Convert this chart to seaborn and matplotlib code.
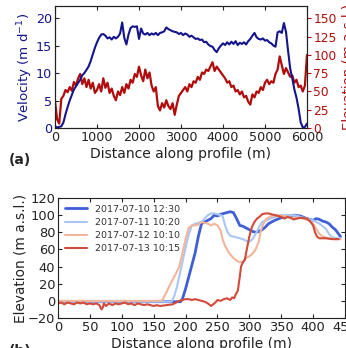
import numpy as np
import pandas as pd
import seaborn as sns
import matplotlib.pyplot as plt

# ---- panel (a): velocity and second quantity along the long profile ----
dist_a = np.arange(0, 6001, 50)
velocity = [
    0.3, 0.1, 0.2, 0.3, 1.0, 2.5, 3.8, 5.0, 6.0, 7.0, 7.6, 8.2, 8.8, 9.6, 10.0, 10.6,
    11.2, 12.2, 13.4, 14.6, 15.6, 16.4, 17.0, 17.1, 16.8, 16.3, 16.5, 16.1, 16.6, 16.3,
    16.6, 17.2, 19.2, 16.4, 15.2, 17.0, 18.2, 18.5, 18.4, 18.5, 16.2, 18.1, 17.2, 17.0,
    17.3, 16.9, 17.2, 17.0, 17.3, 16.9, 17.3, 17.4, 17.6, 18.3, 18.0, 17.8, 17.6, 17.5,
    17.4, 17.1, 17.3, 16.9, 17.2, 17.0, 16.6, 16.8, 16.5, 16.2, 16.3, 16.0, 16.1, 15.6,
    15.7, 15.2, 14.9, 14.8, 14.2, 13.8, 14.5, 15.0, 15.4, 15.1, 15.6, 15.2, 15.7, 15.3,
    15.8, 15.1, 15.5, 15.3, 15.6, 15.2, 15.8, 16.2, 16.8, 17.3, 16.5, 16.2, 16.1, 16.3,
    15.9, 16.0, 15.6, 15.4, 15.0, 14.8, 17.4, 17.6, 17.3, 19.1, 17.5, 14.0, 10.8, 9.0,
    7.0, 5.5, 3.5, 1.0, 0.1, 0.2, 0.8,
]
second = [
    37, 12, 6, 40, 44, 52, 49, 56, 51, 63, 58, 68, 74, 60, 68, 56, 66, 54, 62, 48,
    52, 60, 50, 68, 55, 62, 48, 54, 44, 38, 50, 45, 56, 48, 60, 54, 66, 62, 74, 70,
    84, 72, 64, 80, 68, 76, 58, 50, 56, 30, 24, 34, 28, 38, 30, 26, 34, 18, 32, 44,
    48, 52, 56, 50, 60, 56, 64, 62, 70, 66, 76, 74, 80, 78, 84, 90, 78, 84, 80, 76,
    72, 68, 62, 64, 56, 58, 50, 52, 46, 50, 42, 44, 36, 32, 46, 42, 50, 48, 56, 52,
    62, 66, 60, 64, 62, 74, 80, 98, 86, 74, 82, 76, 70, 72, 62, 66, 56, 58, 50, 58,
    100,
]

# ---- panel (b): elevation profiles on four dates ----
dates = ["2017-07-10 12:30", "2017-07-11 10:20", "2017-07-12 10:10", "2017-07-13 10:15"]
colors_b = ["#3f5fd6", "#a9c6f6", "#f2b59a", "#d24a3a"]

d_0710 = [0, 20, 40, 60, 80, 100, 120, 140, 160, 180, 192, 195, 200, 205, 210, 215, 220,
          225, 230, 235, 240, 245, 250, 255, 260, 265, 270, 275, 280, 285, 290, 295, 300,
          305, 310, 315, 320, 325, 330, 340, 350, 360, 370, 380, 390, 400, 405, 410, 415,
          420, 425, 430, 435, 440, 443]
z_0710 = [-1, -1, -1, -1, -1, -1, -1, -1, -1, -1, -1, 2, 14, 28, 42, 56, 75, 90, 92, 94,
          96, 100, 99, 101, 102, 103, 104, 103, 96, 88, 87, 85, 83, 81, 80, 81, 83, 86,
          90, 94, 97, 99, 100, 99, 96, 94, 96, 95, 93, 92, 90, 86, 83, 78, 75]

d_0711 = [0, 40, 80, 120, 160, 178, 182, 186, 190, 195, 200, 205, 210, 215, 220, 225, 230,
          235, 240, 245, 250, 255, 258, 262, 266, 270, 275, 280, 285, 290, 295, 300, 305,
          310, 315, 320, 330, 340, 350, 360, 370, 380, 390, 400, 410, 420, 425, 430, 440,
          443]
z_0711 = [-1, -1, -1, -1, -1, -1, 5, 15, 28, 45, 62, 78, 88, 90, 91, 92, 96, 100, 102,
          102, 101, 100, 99, 88, 80, 76, 75, 74, 73, 72, 70, 69, 72, 78, 86, 92, 95, 98,
          100, 100, 100, 98, 96, 94, 90, 84, 78, 74, 73, 73]

d_0712 = [0, 40, 80, 120, 160, 163, 170, 175, 180, 185, 190, 195, 200, 205, 210, 215, 220,
          225, 230, 235, 240, 245, 250, 255, 258, 262, 268, 275, 280, 285, 290, 295, 300,
          305, 310, 315, 318, 322, 327, 335, 345, 355, 365, 375, 385, 395, 400, 405, 410,
          415, 425, 435, 443]
z_0712 = [0, 0, 0, 0, 0, 0, 10, 18, 25, 32, 40, 55, 72, 85, 88, 88, 89, 92, 91, 90, 88,
          90, 88, 82, 72, 64, 56, 50, 47, 45, 46, 50, 52, 55, 60, 70, 82, 90, 96, 99, 100,
          99, 97, 97, 96, 93, 90, 84, 78, 75, 73, 72, 72]

d_0713 = [0, 5, 10, 15, 20, 25, 30, 35, 40, 45, 50, 55, 60, 65, 68, 70, 72, 75, 80, 85,
          90, 95, 100, 105, 110, 115, 120, 125, 130, 135, 140, 145, 150, 155, 160, 170,
          180, 185, 190, 195, 200, 205, 210, 215, 220, 225, 230, 235, 240, 245, 248, 250,
          255, 260, 265, 270, 273, 276, 279, 282, 285, 287, 290, 293, 296, 300, 304, 308,
          312, 316, 320, 325, 330, 340, 350, 355, 360, 370, 380, 390, 395, 400, 403, 406,
          410, 420, 430, 440]
z_0713 = [-3, -2, -4, -2, -3, -4, -2, -3, -2, -4, -3, -4, -3, -5, -10, -8, -3, -6, -3, -5,
          -3, -4, -3, -2, -4, -3, -5, -3, -4, -5, -4, -5, -6, -5, -6, -5, -4, -2, 0, 1, 2,
          2, 1, 2, 1, 0, -1, -3, -6, -3, -1, 1, 0, 2, 3, 1, 4, 3, 8, 12, 28, 40, 45, 48,
          60, 75, 86, 92, 96, 98, 101, 102, 102, 100, 98, 96, 98, 95, 97, 96, 93, 88, 80,
          75, 73, 73, 72, 72]

sns.set_style("ticks")
plt.rcParams["font.family"] = ["DejaVu Sans"]
plt.rcParams["font.size"] = 9

navy = "#14148c"
dred = "#b00c0c"
ink = "#222222"

fig = plt.figure(figsize=(3.46, 3.48), dpi=100)
ax1 = fig.add_axes([55 / 346, 1 - 128 / 348, 252 / 346, 122 / 348])
ax2 = ax1.twinx()
# velocity line drawn over the red one
ax1.set_zorder(ax2.get_zorder() + 1)
ax1.patch.set_visible(False)

sns.lineplot(x=dist_a, y=second, ax=ax2, color=dred, lw=1.6)
sns.lineplot(x=dist_a, y=velocity, ax=ax1, color=navy, lw=1.5)

ax1.set_xlim(0, 6000)
ax1.set_ylim(0, 22.2)
ax2.set_ylim(0, 167)
ax1.set_xticks([0, 1000, 2000, 3000, 4000, 5000, 6000])
ax1.set_yticks([0, 5, 10, 15, 20])
ax2.set_yticks([0, 25, 50, 75, 100, 125, 150])
ax1.set_xlabel("Distance along profile (m)", fontsize=10, color=ink, labelpad=2)
ax1.set_ylabel("Velocity (m d$^{-1}$)", fontsize=9.6, color=navy, labelpad=1)
# only the edge of this label shows; the figure cuts the rest off
ax2.set_ylabel("Elevation (m a.s.l.)", fontsize=9.6, color=dred, labelpad=4)
ax1.tick_params(axis="x", direction="in", top=True, length=3, labelsize=9.2, pad=2,
                labelcolor=ink)
ax1.tick_params(axis="y", direction="in", length=3, labelsize=9.2, pad=2, labelcolor=navy)
ax2.tick_params(axis="y", direction="out", length=3, labelsize=8.8, pad=1.5,
                colors=dred)
for ax in (ax1, ax2):
    for s in ax.spines.values():
        s.set_visible(True)
        s.set_color(ink)
        s.set_linewidth(0.8)

fig.text(0.025, 1 - 160 / 348, "(a)", fontsize=10, fontweight="bold", va="center")

# ---- panel (b) ----
ax3 = fig.add_axes([58 / 346, 1 - 318 / 348, 287 / 346, 120 / 348])
series_b = [(d_0710, z_0710), (d_0711, z_0711), (d_0712, z_0712), (d_0713, z_0713)]
widths = [2.0, 1.5, 1.5, 1.5]
for (dd, zz), lab, col, w in zip(series_b, dates, colors_b, widths):
    sns.lineplot(x=dd, y=zz, ax=ax3, color=col, lw=w, label=lab)

ax3.set_xlim(0, 450)
ax3.set_ylim(-20, 120)
ax3.set_xticks(range(0, 451, 50))
ax3.set_yticks(range(-20, 121, 20))
ax3.set_xlabel("Distance along profile (m)", fontsize=10, color=ink, labelpad=2)
ax3.set_ylabel("Elevation (m a.s.l.)", fontsize=9.8, color=ink, labelpad=0)
ax3.tick_params(direction="in", top=True, right=True, length=3, labelsize=9.4, pad=2,
                labelcolor=ink)
for s in ax3.spines.values():
    s.set_visible(True)
    s.set_color(ink)
    s.set_linewidth(0.8)
leg = ax3.legend(loc="upper left", frameon=False, fontsize=6.8, handlelength=2.4,
                 borderaxespad=0.3, labelspacing=0.45, handletextpad=0.8)
for t in leg.get_texts():
    t.set_color("#333333")

fig.text(0.025, -0.01, "(b)", fontsize=10, fontweight="bold", va="center")

fig.savefig("out.png", dpi=100)
